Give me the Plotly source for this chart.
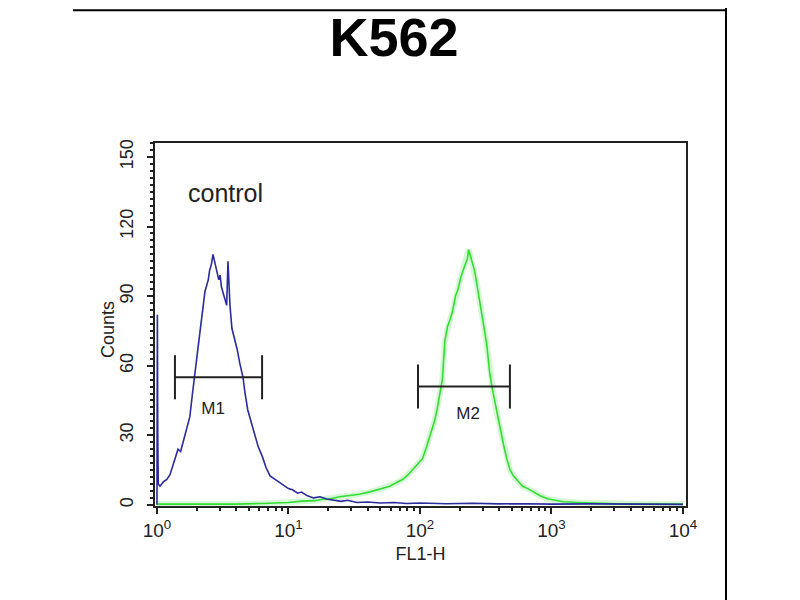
import numpy as np
import plotly.graph_objects as go

# FL1-H positions, in decades (log10 of FL1-H), and counts
ctrl_decades = [
    0.000, 0.003, 0.006, 0.010, 0.023, 0.05, 0.075, 0.099, 0.12, 0.14, 0.16, 0.18,
    0.20, 0.22, 0.25, 0.27, 0.29, 0.31, 0.33, 0.35, 0.365, 0.38, 0.39, 0.40, 0.415,
    0.426, 0.44, 0.456, 0.47, 0.48, 0.49, 0.50, 0.515, 0.53, 0.54, 0.548, 0.555,
    0.57, 0.59, 0.61, 0.63, 0.654, 0.67, 0.69, 0.72, 0.745, 0.77, 0.80, 0.83, 0.86,
    0.90, 0.935, 0.97, 1.00, 1.03, 1.07, 1.10, 1.14, 1.19, 1.24, 1.29, 1.34, 1.40,
    1.45, 1.52, 1.6, 1.7, 1.8, 1.9, 2.0, 2.2, 2.4, 2.6, 2.8, 3.0, 3.3, 3.6, 4.0,
]
ctrl_counts = [
    0, 82, 30, 9, 8, 10, 11, 13, 17, 21, 24, 23,
    27, 31, 38, 48, 58, 67, 76, 85, 92, 95, 97, 101, 104,
    108, 104, 101, 97, 99, 94, 92, 89, 86, 105, 90, 86,
    76, 72, 67, 61, 55, 48, 41, 35, 30, 25, 21, 16, 12.5,
    11, 9.5, 8, 7, 6.5, 5, 5.5, 4, 3, 3.5, 2.5, 2, 1.5,
    2, 1, 1.2, 0.8, 1, 0.6, 0.8, 0.5, 0.7, 0.4, 0.5, 0.3, 0.4, 0.2, 0.2,
]

sample_decades = [
    0.00, 0.2, 0.4, 0.6, 0.8, 0.9, 1.0, 1.1, 1.2, 1.26, 1.316, 1.39, 1.47, 1.54,
    1.62, 1.70, 1.77, 1.82, 1.87, 1.91, 1.95, 1.99, 2.02, 2.05, 2.08, 2.11, 2.13,
    2.15, 2.17, 2.19, 2.21, 2.23, 2.25, 2.27, 2.29, 2.31, 2.32, 2.34, 2.36, 2.37,
    2.38, 2.39, 2.40, 2.415, 2.43, 2.445, 2.46, 2.47, 2.48, 2.50, 2.51, 2.53, 2.55,
    2.57, 2.59, 2.61, 2.635, 2.66, 2.685, 2.71, 2.745, 2.78, 2.82, 2.86, 2.91, 2.97,
    3.03, 3.09, 3.2, 3.35, 3.5, 3.7, 3.85, 4.0,
]
sample_counts = [
    0.3, 0.2, 0.4, 0.3, 0.6, 0.8, 1.0, 1.6, 1.8, 2.4, 2.6, 3.5, 4, 4.6,
    5.6, 6.8, 8, 9.5, 11, 13, 15.5, 18, 20, 25, 30, 36, 41,
    48, 54, 71, 77, 80, 84, 90, 93, 98, 100, 103, 106, 110,
    108, 106, 104, 101, 96, 91, 87, 83, 79, 72, 68, 57, 50,
    44, 38, 33, 26, 20, 15, 12.5, 10, 8, 7, 5.6, 4, 2.6,
    2, 1.3, 1, 0.7, 0.5, 0.4, 0.3, 0.3,
]

# marker gates
gate_names = ["M1", "M2"]
gate_lo = [1.37, 96.6]
gate_hi = [6.3, 483]
gate_y = [55, 51]
gate_cap = [9.5, 9.5]
label_x = [2.67, 232]
label_y = [41, 39]

x_tickvals = [1, 10, 100, 1000, 10000]
x_ticktext = ["10<sup>0</sup>", "10<sup>1</sup>", "10<sup>2</sup>", "10<sup>3</sup>", "10<sup>4</sup>"]
x_minor = [m * 10 ** d for d in range(4) for m in range(2, 10)]

ink = "#222222"
font = "Liberation Sans, Arial, sans-serif"

fig = go.Figure()

sx = 10 ** np.array(sample_decades)
cx = 10 ** np.array(ctrl_decades)

# soft halo around the green line
fig.add_trace(go.Scatter(x=sx, y=sample_counts, mode="lines",
                         line=dict(color="rgba(140,235,140,0.35)", width=6)))
fig.add_trace(go.Scatter(x=sx, y=sample_counts, mode="lines",
                         line=dict(color="#34dc34", width=1.6)))
fig.add_trace(go.Scatter(x=cx, y=ctrl_counts, mode="lines",
                         line=dict(color="#2b2b9c", width=1.6)))

for name, lo, hi, y, cap, lx, ly in zip(gate_names, gate_lo, gate_hi, gate_y,
                                        gate_cap, label_x, label_y):
    fig.add_trace(go.Scatter(
        x=[lo, lo, None, lo, hi, None, hi, hi],
        y=[y - cap, y + cap, None, y, y, None, y - cap, y + cap],
        mode="lines", line=dict(color=ink, width=2),
    ))
    fig.add_trace(go.Scatter(
        x=[lx], y=[ly], mode="text", text=[name],
        textfont=dict(family=font, size=17, color=ink),
    ))

fig.add_annotation(x=np.log10(3.3), y=134.5, xref="x", yref="y", text="control",
                   showarrow=False, font=dict(family=font, size=25, color=ink))
fig.add_annotation(x=-0.0885, y=0.485, xref="paper", yref="paper", text="Counts",
                   textangle=-90, showarrow=False, xanchor="center", yanchor="middle",
                   font=dict(family=font, size=18, color=ink))

fig.update_layout(
    width=800, height=600,
    margin=dict(l=147, r=122, t=135, b=102),
    paper_bgcolor="white", plot_bgcolor="white",
    showlegend=False,
    title=dict(text="<b>K562</b>", x=0.4825, xanchor="center", y=0.952, yanchor="middle",
               font=dict(family=font, size=54, color="black")),
    font=dict(family=font, size=17, color=ink),
)

fig.update_xaxes(
    type="log", range=[-0.015, 4.023],
    tickmode="array", tickvals=x_tickvals, ticktext=x_ticktext,
    ticks="outside", ticklen=6, tickwidth=2, tickcolor=ink,
    minor=dict(tickmode="array", tickvals=x_minor, ticks="outside",
               ticklen=3, tickwidth=1.5, tickcolor=ink),
    showline=True, mirror=True, linecolor=ink, linewidth=2,
    showgrid=False, zeroline=False,
    tickfont=dict(size=19),
    title=dict(text="FL1-H", font=dict(size=18), standoff=8),
)

fig.update_yaxes(
    range=[-0.5, 156], tickmode="linear", tick0=0, dtick=30,
    tickangle=-90, ticklabelstandoff=7,
    ticks="outside", ticklen=6, tickwidth=2, tickcolor=ink,
    minor=dict(dtick=3, ticks="outside", ticklen=3, tickwidth=1.5, tickcolor=ink),
    showline=True, mirror=True, linecolor=ink, linewidth=2,
    showgrid=False, zeroline=False,
    tickfont=dict(size=18),
)

# the border around the original image
fig.add_shape(type="line", xref="paper", yref="paper", x0=-0.1544, x1=1.0753,
              y0=1.366, y1=1.366, line=dict(color="black", width=2))
fig.add_shape(type="line", xref="paper", yref="paper", x0=1.0753, x1=1.0753,
              y0=1.38, y1=-0.30, line=dict(color="black", width=2))

fig.write_html("out.html")
